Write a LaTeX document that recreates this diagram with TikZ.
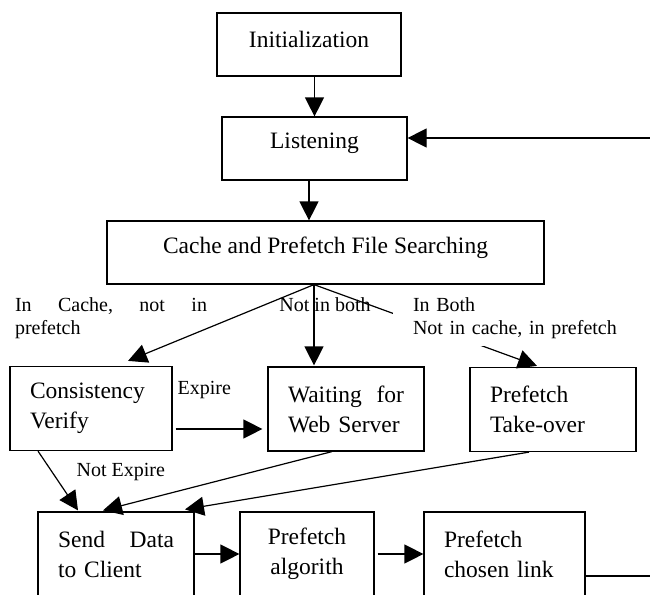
\documentclass[tikz,border=0pt]{standalone}
\usepackage{fontspec}
\setmainfont{Liberation Serif}
\usetikzlibrary{arrows.meta}
\newcommand{\lift}[1]{\raisebox{5pt}[\height][\depth]{#1}}

\begin{document}
\begin{tikzpicture}[x=1pt,y=-1pt,>={Triangle[length=19pt,width=19pt]},line width=1.2pt]
  \tikzstyle{box}=[rectangle,draw,inner xsep=20pt,inner ysep=0pt,
                   font=\fontsize{23.5}{30}\selectfont]
  \tikzstyle{one line}=[box,minimum height=63pt]
  \tikzstyle{two lines}=[box,minimum height=84pt,align=left]
  \tikzstyle{cond}=[inner sep=0pt,font=\fontsize{20}{22.5}\selectfont]
  \useasboundingbox (0,0) rectangle (650,594);

  \node [one line,minimum width=184pt] (init)   at (309,44.5)   {\lift{Initialization}};
  \node [one line,minimum width=185pt] (listen) at (314.5,148.5) {\lift{Listening}};
  \node [one line,minimum width=437pt] (cache)  at (325.5,252.5) {\lift{Cache and Prefetch File Searching}};
  \node [two lines,text width=122pt] (verify) at (91,408.5)  {Consistency\\Verify};
  \node [two lines,text width=116pt] (wait)   at (346,409)   {Waiting\hfill for\\Web Server};
  \node [two lines,text width=126pt] (take)   at (553,409.5) {Prefetch\\Take-over};
  \node [two lines,text width=116pt] (send)   at (116,554)   {Send\hfill Data\\to Client};
  \node [two lines,text width=94pt,align=center] (algo) at (307,554) {Prefetch\\algorith};
  \node [two lines,text width=121pt] (chosen) at (504.5,554) {Prefetch\\chosen link};

  \node [cond,text width=192pt,align=left] (incache) at (111,318) {In\hfill Cache,\hfill not\hfill in\\prefetch};
  \node [cond] (notboth) at (325,305) {Not in both};
  \node [cond,anchor=west] (expire) at (177,390) {Expire};
  \node [cond,anchor=west] (notexp) at (76,472) {Not Expire};

  \coordinate (edge) at (680,300);

  \draw [->] (listen.north |- init.south) -- (listen.north);
  \draw [->] ([xshift=-5.5pt]listen.south) -- ([xshift=-5.5pt]listen.south |- cache.north);
  \draw [->] ([xshift=-11.5pt]cache.south) -- ([xshift=37pt,yshift=5pt]verify.north);
  \draw [->] ([xshift=-11.5pt]cache.south) -- ([xshift=-32pt,yshift=1pt]wait.north);
  \draw [->] ([xshift=-11.5pt]cache.south) -- ([xshift=-16pt,yshift=1pt]take.north);
  \draw [->] ([xshift=3pt,yshift=-20.5pt]verify.east) -- ([xshift=-5pt,yshift=-20pt]wait.west);
  \draw [->] ([xshift=-53pt]verify.south) -- ([xshift=-38pt,yshift=1pt]send.north);
  \draw [->] ([xshift=-14pt]wait.south) -- ([xshift=-13pt,yshift=1pt]send.north);
  \draw [->] ([xshift=-24pt]take.south) -- ([xshift=69pt,yshift=2pt]send.north);
  \draw [->] (send.east) -- (algo.west);
  \draw [->] ([xshift=3pt]algo.east) -- (chosen.west);
  \draw [->] ([yshift=-22pt]chosen.east) -| (edge) |- ([yshift=10.5pt]listen.east);

  \node [cond,text width=205pt,align=left,fill=white,inner xsep=20pt,inner ysep=8pt]
    (both) at (515.5,318) {In Both\\Not in cache, in prefetch};
\end{tikzpicture}
\end{document}
